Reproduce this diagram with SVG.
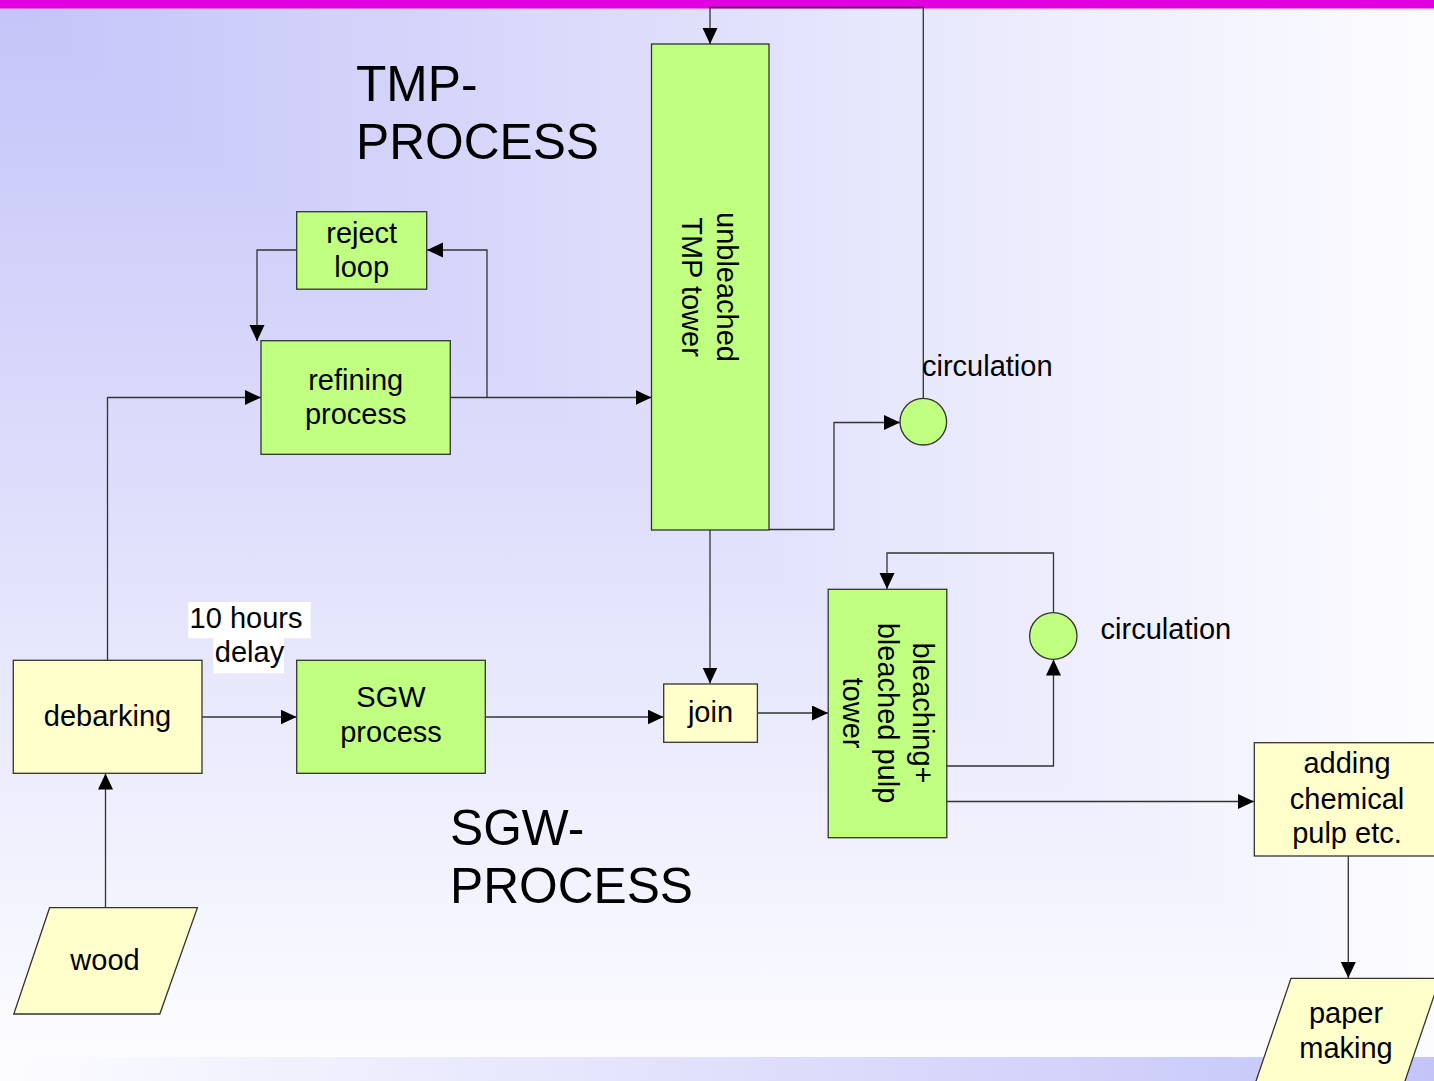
<svg xmlns="http://www.w3.org/2000/svg" width="1434" height="1081" viewBox="0 0 1434 1081">
<style>
text{font-family:"Liberation Sans",Arial,sans-serif;fill:#000;}
.t{font-size:29px;text-anchor:middle;}
.l{font-size:29px;}
.title{font-size:49.7px;}
.g{fill:#c0ff80;stroke:#333;stroke-width:1.3;}
.y{fill:#ffffcc;stroke:#333;stroke-width:1.3;}
.c{fill:none;stroke:#333;stroke-width:1.3;marker-end:url(#ah);}
</style>
<defs>
<linearGradient id="gx" x1="0" y1="0" x2="1434" y2="0" gradientUnits="userSpaceOnUse">
<stop offset="0" stop-color="#c4c4f9"/><stop offset="1" stop-color="#fcfcff"/>
</linearGradient>
<linearGradient id="gy" x1="0" y1="0" x2="0" y2="1057" gradientUnits="userSpaceOnUse">
<stop offset="0" stop-color="#c4c4f9"/><stop offset="1" stop-color="#fcfcff"/>
</linearGradient>
<linearGradient id="gb" x1="0" y1="0" x2="1434" y2="0" gradientUnits="userSpaceOnUse">
<stop offset="0" stop-color="#fcfcff"/><stop offset="1" stop-color="#c4c4f9"/>
</linearGradient>
<marker id="ah" markerUnits="userSpaceOnUse" markerWidth="17" markerHeight="16" refX="16" refY="7.5" orient="auto">
<path d="M0,0 L16,7.5 L0,15 z" fill="#000"/>
</marker>
</defs>
<g id="background">
<rect x="0" y="0" width="1434" height="1081" fill="url(#gx)"/>
<polygon points="0,0 1434,1057 0,1057" fill="url(#gy)"/>
<rect x="0" y="1057" width="1434" height="24" fill="url(#gb)"/>
<rect x="0" y="0" width="1434" height="8.5" fill="#e000e0"/>
</g>
<g id="titles">
<text class="title" x="356" y="101">TMP-</text>
<text class="title" x="356" y="159">PROCESS</text>
<text class="title" x="450" y="845">SGW-</text>
<text class="title" x="450" y="903">PROCESS</text>
</g>
<g id="connectors">
<path class="c" d="M923.3,398 V7.5 H710 V44"/>
<path class="c" d="M450,397.5 H651.5"/>
<path class="c" d="M487,397.5 V250 H427"/>
<path class="c" d="M296.5,250 H257 V341"/>
<path class="c" d="M107.5,660 V397.5 H261"/>
<path class="c" d="M202,717 H296.5"/>
<path class="c" d="M485,717 H663.5"/>
<path class="c" d="M710,530 V683.5"/>
<path class="c" d="M769,529.5 H834 V422.5 H900"/>
<path class="c" d="M757,713 H828"/>
<path class="c" d="M946.5,766 H1053.5 V659.5"/>
<path class="c" d="M1053.5,612.5 V553 H887 V589"/>
<path class="c" d="M946.5,801.5 H1254"/>
<path class="c" d="M1348.3,856 V978"/>
<path class="c" d="M105.5,908 V773.5"/>
</g>
<g id="tmp-tower">
<rect class="g" x="651.5" y="44" width="117.5" height="486"/>
<text class="t" transform="translate(710,287) rotate(90)"><tspan x="0" y="-7">unbleached</tspan><tspan x="0" y="28">TMP tower</tspan></text>
</g>
<g id="reject-loop">
<rect class="g" x="296.7" y="211.7" width="130" height="77.5"/>
<text class="t"><tspan x="361.7" y="243">reject</tspan><tspan x="361.7" y="277">loop</tspan></text>
</g>
<g id="refining">
<rect class="g" x="261" y="340.7" width="189.3" height="113.6"/>
<text class="t"><tspan x="355.7" y="390">refining</tspan><tspan x="355.7" y="424">process</tspan></text>
</g>
<g id="circulation-1">
<circle class="g" cx="923.3" cy="421.7" r="23.3"/>
<text class="l" x="922" y="376">circulation</text>
</g>
<g id="delay-label">
<rect x="188.3" y="602" width="122.4" height="36.3" fill="#fff"/>
<rect x="213.3" y="638" width="70.7" height="35.3" fill="#fff"/>
<text class="t"><tspan x="246" y="628.3">10 hours</tspan><tspan x="249.5" y="662.3">delay</tspan></text>
</g>
<g id="debarking">
<rect class="y" x="13.3" y="660.3" width="188.7" height="113"/>
<text class="t" x="107.5" y="726">debarking</text>
</g>
<g id="sgw">
<rect class="g" x="296.7" y="660.3" width="188.6" height="113"/>
<text class="t"><tspan x="391" y="707">SGW</tspan><tspan x="391" y="742">process</tspan></text>
</g>
<g id="join">
<rect class="y" x="663.7" y="684" width="93.7" height="58.3"/>
<text class="t" x="710.5" y="722">join</text>
</g>
<g id="bleaching">
<rect class="g" x="828.2" y="589.3" width="118.6" height="248.4"/>
<text class="t" transform="translate(887,713) rotate(90)"><tspan x="0" y="-26">bleaching+</tspan><tspan x="0" y="9">bleached pulp</tspan><tspan x="0" y="44">tower</tspan></text>
</g>
<g id="circulation-2">
<ellipse class="g" cx="1053.3" cy="636" rx="23.7" ry="23.3"/>
<text class="l" x="1100.6" y="638.5">circulation</text>
</g>
<g id="adding">
<rect class="y" x="1254.3" y="742.7" width="190" height="113.3"/>
<text class="t"><tspan x="1347" y="773">adding</tspan><tspan x="1347" y="808.5">chemical</tspan><tspan x="1347" y="843">pulp etc.</tspan></text>
</g>
<g id="paper-making">
<polygon class="y" points="1291,978.3 1440,978.3 1404,1084 1255,1084"/>
<text class="t"><tspan x="1346" y="1023">paper</tspan><tspan x="1346" y="1058">making</tspan></text>
</g>
<g id="wood">
<polygon class="y" points="49.6,907.7 197.4,907.7 159.8,1014 13.8,1014"/>
<text class="t" x="105" y="970">wood</text>
</g>
</svg>
